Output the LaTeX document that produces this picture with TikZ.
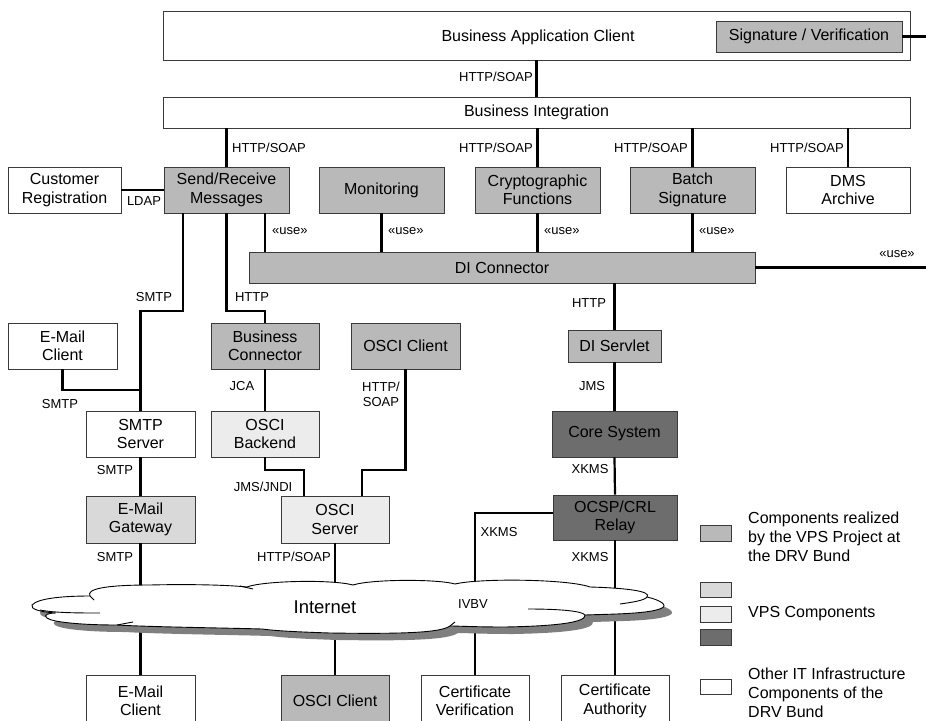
\documentclass[tikz,border=0pt]{standalone}
\usepackage{fontspec}
\setmainfont{Liberation Sans}
\usetikzlibrary{calc}

\definecolor{vpsgray}{HTML}{B9B9B9}
\definecolor{vpslight}{HTML}{D9D9D9}
\definecolor{vpspale}{HTML}{ECECEC}
\definecolor{vpsdark}{HTML}{6D6D6D}
\definecolor{boxline}{HTML}{3A3A3A}
\definecolor{shadowgray}{HTML}{7F7F7F}

\newcommand\bxfont{\fontsize{16}{18.5}\selectfont}
\newcommand\lblfont{\fontsize{13}{15}\selectfont}
\newcommand\legfont{\fontsize{16}{19}\selectfont}
\newcommand\netfont{\fontsize{18.5}{20}\selectfont}

% outline of the network cloud
\def\cloudline{(32,605)
 .. controls (38,598) and (65,596) .. (90,596)
 .. controls (86,589) and (105,585) .. (150,585)
 .. controls (190,584) and (228,585) .. (247,587)
 .. controls (262,581) and (330,579) .. (353,585)
 .. controls (372,579) and (438,579) .. (455,584)
 .. controls (480,578) and (568,579) .. (590,587)
 .. controls (625,588) and (652,591) .. (647,597)
 .. controls (660,600) and (668,605) .. (662,608)
 .. controls (650,614) and (612,614) .. (585,615)
 .. controls (586,622) and (560,626) .. (505,627)
 .. controls (475,627) and (458,626) .. (450,626)
 .. controls (440,633) and (400,634) .. (330,633)
 .. controls (300,632) and (277,631) .. (262,629)
 .. controls (230,628) and (150,627) .. (117,625)
 .. controls (80,625) and (52,622) .. (47,618)
 .. controls (43,615) and (48,613) .. (56,613)
 .. controls (40,612) and (30,609) .. (32,605) -- cycle}

\begin{document}
\begin{tikzpicture}[x=1pt,y=-1pt,
  box/.style={draw=boxline, line width=0.9pt, inner sep=0pt, align=center, font=\bxfont},
  midbox/.style={box, fill=vpsgray},
  lightbox/.style={box, fill=vpslight},
  palebox/.style={box, fill=vpspale},
  darkbox/.style={box, fill=vpsdark},
  plainbox/.style={box, fill=white},
  lbl/.style={inner sep=0pt, font=\lblfont, align=center},
  legtext/.style={inner sep=0pt, font=\legfont, align=left, anchor=west},
  wire/.style={line width=2.2pt, draw=black},
  cloudedge/.style={line width=0.9pt, draw=black}
]
\useasboundingbox (0,0) rectangle (926,720);

% ---------- components ----------
\node[plainbox, minimum width=747pt, minimum height=49pt] (bac) at (536.5,35.5) {};
\node[font=\bxfont, inner sep=0pt] (bactext) at (538,37) {Business Application Client};
\node[midbox, minimum width=186pt, minimum height=31pt] (sig) at (809,36.5) {Signature / Verification};
\node[plainbox, minimum width=747pt, minimum height=31pt] (bi) at (536.5,112.5) {Business Integration};

\node[plainbox, minimum width=113pt, minimum height=46pt] (custreg) at (64.5,190) {Customer\\Registration};
\node[midbox, minimum width=125pt, minimum height=46pt] (sendrecv) at (226.5,190) {Send/Receive\\Messages};
\node[midbox, minimum width=125pt, minimum height=46pt] (monitor) at (381.5,190) {Monitoring};
\node[midbox, minimum width=125pt, minimum height=46pt] (crypto) at (537.5,190) {Cryptographic\\Functions};
\node[midbox, minimum width=125pt, minimum height=46pt] (batch) at (692.5,190) {Batch\\Signature};
\node[plainbox, minimum width=124pt, minimum height=46pt] (dms) at (848,190) {DMS\\Archive};

\node[midbox, minimum width=506pt, minimum height=31pt] (diconn) at (502,267.5) {DI Connector};

\node[plainbox, minimum width=109pt, minimum height=46pt] (emailc1) at (62.5,346) {E-Mail\\Client};
\node[midbox, minimum width=108pt, minimum height=46pt] (bizconn) at (265,346) {Business\\Connector};
\node[midbox, minimum width=109pt, minimum height=46pt] (osciclient1) at (405.5,346) {OSCI Client};
\node[midbox, minimum width=93pt, minimum height=32pt] (diservlet) at (614.5,346) {DI Servlet};

\node[plainbox, minimum width=109pt, minimum height=46pt] (smtpserver) at (140.5,434) {SMTP\\Server};
\node[palebox, minimum width=108pt, minimum height=46pt] (oscibackend) at (265,434) {OSCI\\Backend};
\node[darkbox, minimum width=125pt, minimum height=46pt] (coresys) at (614.5,434) {Core System};

\node[lightbox, minimum width=109pt, minimum height=47pt] (gateway) at (140.5,519.5) {E-Mail\\Gateway};
\node[palebox, minimum width=108pt, minimum height=47pt] (osciserver) at (335,519.5) {OSCI\\Server};
\node[darkbox, minimum width=124pt, minimum height=45pt] (ocsp) at (615,517.5) {OCSP/CRL\\Relay};

\node[plainbox, minimum width=109pt, minimum height=52pt] (emailc2) at (140.5,701) {E-Mail\\Client};
\node[midbox, minimum width=108pt, minimum height=52pt] (osciclient2) at (335,701) {OSCI Client};
\node[plainbox, minimum width=108pt, minimum height=52pt] (certver) at (475,701) {Certificate\\Verification};
\node[plainbox, minimum width=108pt, minimum height=52pt] (certauth) at (615,701) {Certificate\\Authority};

% ---------- bend points and free ends ----------
\coordinate (sigfree) at (926,36.5);
\coordinate (usefree) at (926,267.5);
\coordinate (smtpbend) at (183,311);
\coordinate (httpbend) at (226.5,311);
\coordinate (smtpjoin) at (140.5,390);
\coordinate (jmsbend) at (304,470);
\coordinate (soapbend) at (362,470);
\coordinate (xkmsbend) at (475,513);

% ---------- connectors ----------
\draw[wire] (sig.east) -- (sigfree);
\draw[wire] (bac.south) -- (bi.north);
\draw[wire] (bi.south -| sendrecv) -- (sendrecv.north);
\draw[wire] (bi.south -| crypto) -- (crypto.north);
\draw[wire] (bi.south -| batch) -- (batch.north);
\draw[wire] (bi.south -| dms) -- (dms.north);
\draw[wire] (custreg.east) -- (sendrecv.west);

\draw[wire] (smtpbend |- sendrecv.south) -- (smtpbend) -| (smtpserver.north);
\draw[wire] (sendrecv.south) -- (httpbend) -| (bizconn.north);
\draw[wire] (sendrecv.south -| bizconn) -- (diconn.north -| bizconn);
\draw[wire] (monitor.south) -- (diconn.north -| monitor);
\draw[wire] (crypto.south) -- (diconn.north -| crypto);
\draw[wire] (batch.south) -- (diconn.north -| batch);
\draw[wire] (diconn.east) -- (usefree);

\draw[wire] (emailc1.south) |- (smtpjoin);
\draw[wire] (bizconn.south) -- (oscibackend.north);
\draw[wire] (oscibackend.south) |- (jmsbend) -- (jmsbend |- osciserver.north);
\draw[wire] (osciclient1.south) |- (soapbend) -- (soapbend |- osciserver.north);
\draw[wire] (smtpserver.south) -- (gateway.north);

\draw[wire] (diconn.south -| diservlet) -- (diservlet.north);
\draw[wire] (diservlet.south) -- (coresys.north);
\draw[wire] (coresys.south) -- (ocsp.north);

\draw[wire] (gateway.south) -- (emailc2.north);
\draw[wire] (osciserver.south) -- (osciclient2.north);
\draw[wire] (xkmsbend -| ocsp.west) -- (xkmsbend) -- (certver.north);
\draw[wire] (ocsp.south) -- (certauth.north);

% ---------- network cloud ----------
\fill[shadowgray, shift={(8,7)}] \cloudline;
\path[fill=white, cloudedge] \cloudline;
\draw[cloudedge] (40,610) .. controls (55,613) and (80,613) .. (100,613);
\draw[cloudedge] (90,596) -- (94,600);
\draw[cloudedge] (240,586) -- (253,589);
\draw[cloudedge] (117,625) -- (133,622);
\draw[cloudedge] (450,626) -- (455,622);
\draw[cloudedge] (528,609) .. controls (560,609) and (582,611) .. (585,615);
\draw[cloudedge] (620,604) .. controls (635,602) and (645,600) .. (647,597);
\node[font=\netfont, inner sep=0pt] (internet) at (325,607) {Internet};
\node[lbl] (ivbv) at (473,604) {IVBV};

% ---------- connector labels ----------
\node[lbl, anchor=east] (l01) at (533,77) {HTTP/SOAP};
\node[lbl, anchor=west] (l02) at (232,148) {HTTP/SOAP};
\node[lbl, anchor=east] (l03) at (533,148) {HTTP/SOAP};
\node[lbl, anchor=east] (l04) at (688,148) {HTTP/SOAP};
\node[lbl, anchor=east] (l05) at (844,148) {HTTP/SOAP};
\node[lbl] (l06) at (144,201) {LDAP};
\node[lbl, anchor=west] (l07) at (272,231) {«use»};
\node[lbl, anchor=west] (l08) at (388,231) {«use»};
\node[lbl, anchor=west] (l09) at (544,231) {«use»};
\node[lbl, anchor=west] (l10) at (699,231) {«use»};
\node[lbl] (l11) at (897,254) {«use»};
\node[lbl] (l12) at (154,297) {SMTP};
\node[lbl] (l13) at (252,297) {HTTP};
\node[lbl] (l14) at (589,303) {HTTP};
\node[lbl] (l15) at (60,404) {SMTP};
\node[lbl] (l16) at (242,386) {JCA};
\node[lbl] (l17) at (381,394) {HTTP/\\SOAP};
\node[lbl] (l18) at (592,386) {JMS};
\node[lbl] (l19) at (115,470) {SMTP};
\node[lbl] (l20) at (590,469) {XKMS};
\node[lbl] (l21) at (263,487) {JMS/JNDI};
\node[lbl] (l22) at (499,532) {XKMS};
\node[lbl] (l23) at (115,557) {SMTP};
\node[lbl, anchor=east] (l24) at (331,557) {HTTP/SOAP};
\node[lbl] (l25) at (590,557) {XKMS};

% ---------- legend ----------
\node[midbox, minimum width=31pt, minimum height=16pt] (leg1) at (715.5,533) {};
\node[lightbox, minimum width=31pt, minimum height=15pt] (leg2) at (715.5,590) {};
\node[palebox, minimum width=31pt, minimum height=16pt] (leg3) at (715.5,614) {};
\node[darkbox, minimum width=31pt, minimum height=16pt] (leg4) at (715.5,637) {};
\node[plainbox, minimum width=31pt, minimum height=15pt] (leg5) at (715.5,686.5) {};
\node[legtext] (legt1) at (748,537) {Components realized\\by the VPS Project at\\the DRV Bund};
\node[legtext] (legt2) at (748,614) {VPS Components};
\node[legtext] (legt3) at (748,693) {Other IT Infrastructure\\Components of the\\DRV Bund};
\end{tikzpicture}
\end{document}
